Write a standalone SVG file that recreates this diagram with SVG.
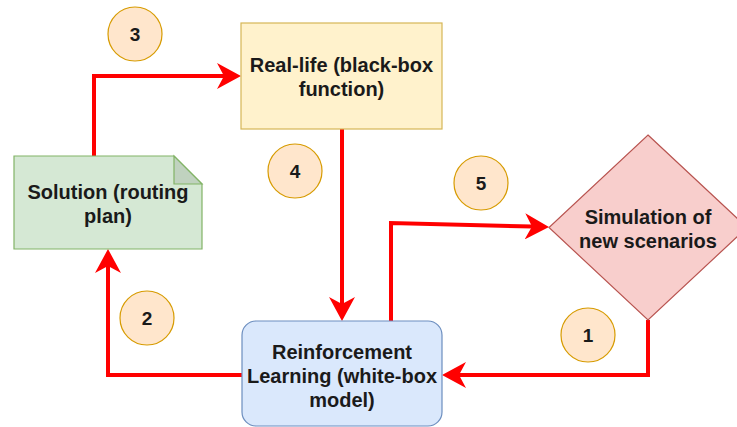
<svg xmlns="http://www.w3.org/2000/svg" width="737" height="427" viewBox="0 0 737 427">
<style>
.lbl{font-family:"Liberation Sans",Arial,sans-serif;font-weight:bold;font-size:20px;fill:#1a1a1a;text-anchor:middle}
.num{font-family:"Liberation Sans",Arial,sans-serif;font-weight:bold;font-size:19px;fill:#1a1a1a;text-anchor:middle}
.conn{fill:none;stroke:#ff0000;stroke-width:4;stroke-linejoin:miter}
.badge{fill:#ffe6cc;stroke:#d79b00;stroke-width:1.2}
</style>
<defs>
<marker id="arr" markerUnits="userSpaceOnUse" markerWidth="25" markerHeight="26" viewBox="0 0 25 26" refX="7" refY="13" orient="auto">
<path d="M24,13 L0,0 L7,13 L0,26 Z" fill="#ff0000"/>
</marker>
</defs>
<g id="connectors">
<path class="conn" d="M94,156 V76 H224" marker-end="url(#arr)"/>
<path class="conn" d="M342,129 V304" marker-end="url(#arr)"/>
<path class="conn" d="M391,321 V223 L532,226.5" marker-end="url(#arr)"/>
<path class="conn" d="M648,320 V375 H459" marker-end="url(#arr)"/>
<path class="conn" d="M242,375 H108 V266" marker-end="url(#arr)"/>
</g>
<g id="solution">
<path d="M14,156 H174 L202,184 V249 H14 Z" fill="#d5e8d4" stroke="#82b366" stroke-width="1.2"/>
<path d="M174,156 V184 H202 Z" fill="#c0d2bf" stroke="#82b366" stroke-width="1.2"/>
<text class="lbl" x="108" y="199">Solution (routing</text>
<text class="lbl" x="108" y="223">plan)</text>
</g>
<g id="reallife">
<rect x="241" y="23" width="201" height="106" fill="#fff2cc" stroke="#d6b656" stroke-width="1.2"/>
<text class="lbl" x="341.5" y="72">Real-life (black-box</text>
<text class="lbl" x="341.5" y="96">function)</text>
</g>
<g id="rl">
<rect x="242" y="321" width="200" height="105" rx="14" fill="#dae8fc" stroke="#6c8ebf" stroke-width="1.2"/>
<text class="lbl" x="342" y="359">Reinforcement</text>
<text class="lbl" x="342" y="383">Learning (white-box</text>
<text class="lbl" x="342" y="407">model)</text>
</g>
<g id="simulation">
<polygon points="648,135 747,227.5 648,320 549,227.5" fill="#f8cecc" stroke="#b85450" stroke-width="1.2"/>
<text class="lbl" x="648" y="224">Simulation of</text>
<text class="lbl" x="648" y="248">new scenarios</text>
</g>
<g id="badge1"><circle class="badge" cx="588" cy="335" r="27"/><text class="num" x="588" y="342">1</text></g>
<g id="badge2"><circle class="badge" cx="147" cy="318" r="27"/><text class="num" x="147" y="325">2</text></g>
<g id="badge3"><circle class="badge" cx="135" cy="34" r="27"/><text class="num" x="135" y="41">3</text></g>
<g id="badge4"><circle class="badge" cx="295" cy="171" r="27"/><text class="num" x="295" y="178">4</text></g>
<g id="badge5"><circle class="badge" cx="481" cy="183" r="27"/><text class="num" x="481" y="190">5</text></g>
</svg>
